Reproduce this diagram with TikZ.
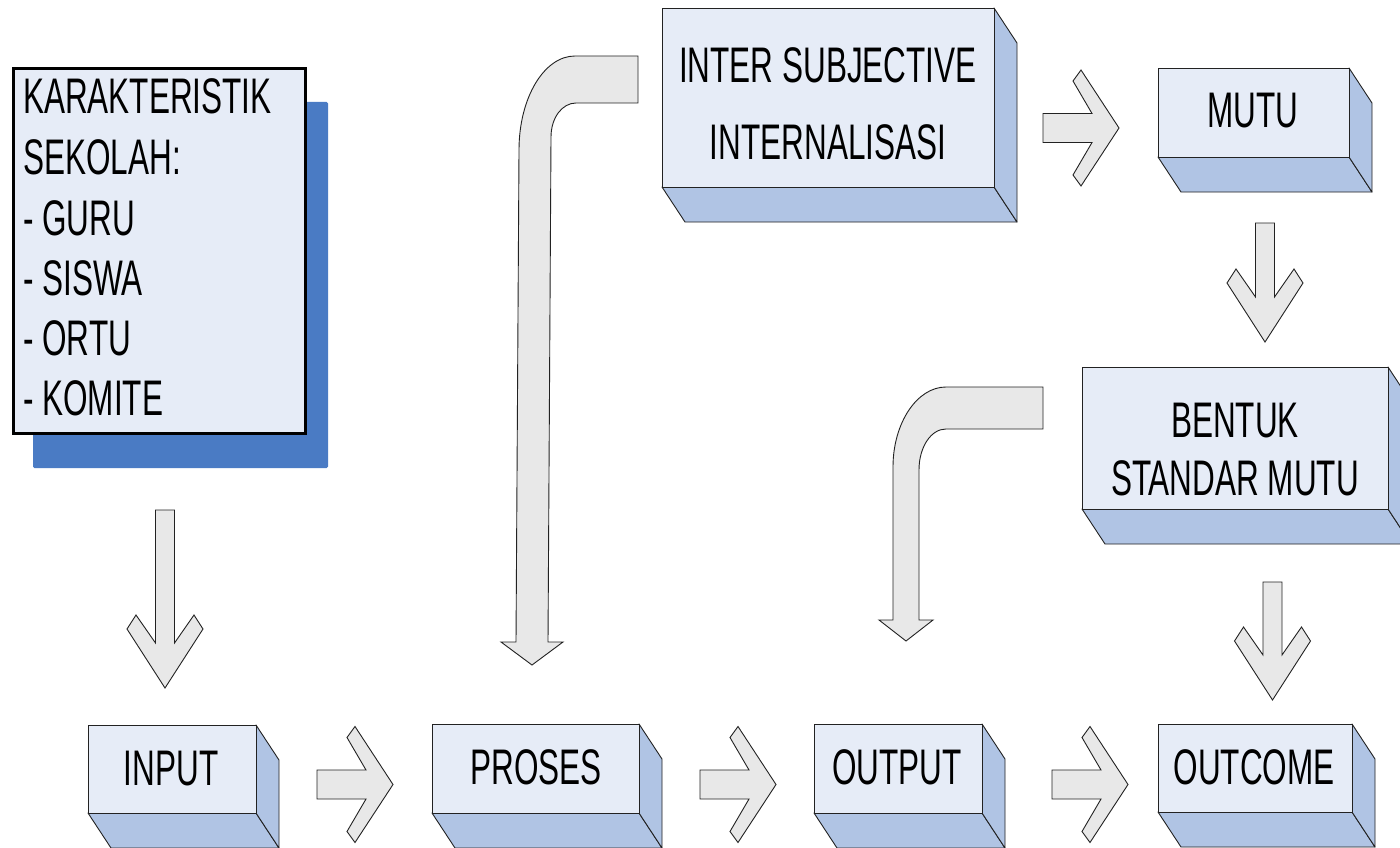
\documentclass[tikz,border=0pt]{standalone}
\usepackage{fontspec}
\usetikzlibrary{calc}
\newfontfamily\narrowf{Liberation Sans}[FakeStretch=0.63]
\definecolor{facec}{HTML}{E6ECF7}
\definecolor{sidec}{HTML}{B0C4E4}
\definecolor{shadowc}{HTML}{4A7BC4}
\definecolor{arrowc}{HTML}{E8E8E8}
\definecolor{edgec}{HTML}{222222}
\tikzset{
  face/.style={draw=edgec, fill=facec, line width=0.9pt, inner sep=0pt, anchor=north west},
  sideface/.style={draw=edgec, fill=sidec, line width=0.9pt, line join=round},
  blockarrow/.style={draw=edgec, fill=arrowc, line width=0.9pt, line join=miter},
  lbl/.style={font=\narrowf\fontsize{50}{60}\selectfont, inner sep=0pt, anchor=base},
  lbll/.style={lbl, anchor=base west},
}
% cube box: name, x1, y1, x2, y2 (pixel coordinates, y downward)
\newcommand{\cubebox}[5]{%
  \draw[sideface] (#2,#5) -- (#4,#5) -- ({#4+23},{#5+35}) -- ({#2+23},{#5+35}) -- cycle;
  \draw[sideface] (#4,#3) -- ({#4+23},{#3+35}) -- ({#4+23},{#5+35}) -- (#4,#5) -- cycle;
  \node[face, minimum width={(#4-#2)*1pt}, minimum height={(#5-#3)*1pt}] (#1) at (#2,#3) {};
}
% right block arrow with tip at named coordinate
\newcommand{\rarrow}[1]{%
  \draw[blockarrow] ($(#1)+(-76,-14.5)$) -- ($(#1)+(-27,-14.5)$) -- ($(#1)+(-46,-47)$)
    -- ($(#1)+(-38,-58)$) -- (#1) -- ($(#1)+(-38,58)$) -- ($(#1)+(-46,47)$)
    -- ($(#1)+(-27,14.5)$) -- ($(#1)+(-76,14.5)$) -- cycle;
}
% down block arrow with tip at named coordinate, length #2
\newcommand{\darrow}[2]{%
  \draw[blockarrow] ($(#1)+(-9.5,-#2)$) -- ($(#1)+(-9.5,-45)$) -- ($(#1)+(-29,-73)$)
    -- ($(#1)+(-38,-59)$) -- (#1) -- ($(#1)+(38,-59)$) -- ($(#1)+(29,-73)$)
    -- ($(#1)+(9.5,-45)$) -- ($(#1)+(9.5,-#2)$) -- cycle;
}
\begin{document}
\begin{tikzpicture}[x=1pt,y=-1pt]
\useasboundingbox (0,0) rectangle (1400,848);
\clip (0,0) rectangle (1400,848);
\fill[white] (0,0) rectangle (1400,848);

% --- Karakteristik box with shadow
\fill[shadowc, rounded corners=1.5pt] (33,102) rectangle (328,468);
\node[draw=black, line width=3pt, fill=facec, inner sep=0pt, anchor=north west,
      minimum width=292pt, minimum height=365pt] (kar) at (12,67) {};
\node[lbll] (k1) at (23,114) {KARAKTERISTIK};
\node[lbll] (k2) at (23,174) {SEKOLAH:};
\node[lbll] (k3) at (23,235) {- GURU};
\node[lbll] (k4) at (23,295) {- SISWA};
\node[lbll] (k5) at (23,355) {- ORTU};
\node[lbll] (k6) at (23,415) {- KOMITE};

% --- 3D boxes
\cubebox{input}{88}{725}{256}{813}
\cubebox{proses}{432}{724}{639}{813}
\cubebox{output}{814}{724}{982}{813}
\cubebox{outcome}{1158}{724}{1352}{812}
\cubebox{mutu}{1158}{68}{1349}{157}
\cubebox{inter}{662}{8}{994}{187}
\cubebox{bentuk}{1082}{367}{1388}{509}

\node[lbl] (input-t) at (171,785) {INPUT};
\node[lbl] (proses-t) at (536,784) {PROSES};
\node[lbl] (output-t) at (897,784) {OUTPUT};
\node[lbl] (outcome-t) at (1254,784) {OUTCOME};
\node[lbl] (mutu-t) at (1253,128) {MUTU};
\node[lbl] (inter-t1) at (828,83) {INTER SUBJECTIVE};
\node[lbl] (inter-t2) at (828,160) {INTERNALISASI};
\node[lbl] (bentuk-t1) at (1235,437) {BENTUK};
\node[lbl] (bentuk-t2) at (1235,495) {STANDAR MUTU};

% --- straight block arrows
\coordinate (r1) at (393,784.5);
\coordinate (r2) at (776,784.5);
\coordinate (r3) at (1128,784.5);
\coordinate (r4) at (1119,128);
\rarrow{r1}
\rarrow{r2}
\rarrow{r3}
\rarrow{r4}

\coordinate (d1) at (165,688);
\coordinate (d2) at (1265,342);
\coordinate (d3) at (1272.5,700);
\darrow{d1}{178}
\darrow{d2}{119}
\darrow{d3}{118}

% --- bent arrow from INTER to PROSES
\coordinate (b1) at (638,56);
\draw[blockarrow] (b1) -- (575,56) .. controls (544,56) and (519,98) .. (519,150)
  -- (516,642) -- (501,642) -- (532,665) -- (563,642) -- (548,642)
  -- (551,137) .. controls (551,118) and (562,103) .. (576,103) -- (638,103) -- cycle;

% --- bent arrow from BENTUK to OUTPUT
\coordinate (b2) at (1043,387);
\draw[blockarrow] (b2) -- (946,387) .. controls (917,387) and (893,423) .. (893,467)
  -- (893,620) -- (879,620) -- (906,641) -- (933,620) -- (919,620)
  -- (919,470) .. controls (919,447) and (931,429) .. (946,429) -- (1043,429) -- cycle;
\end{tikzpicture}
\end{document}
